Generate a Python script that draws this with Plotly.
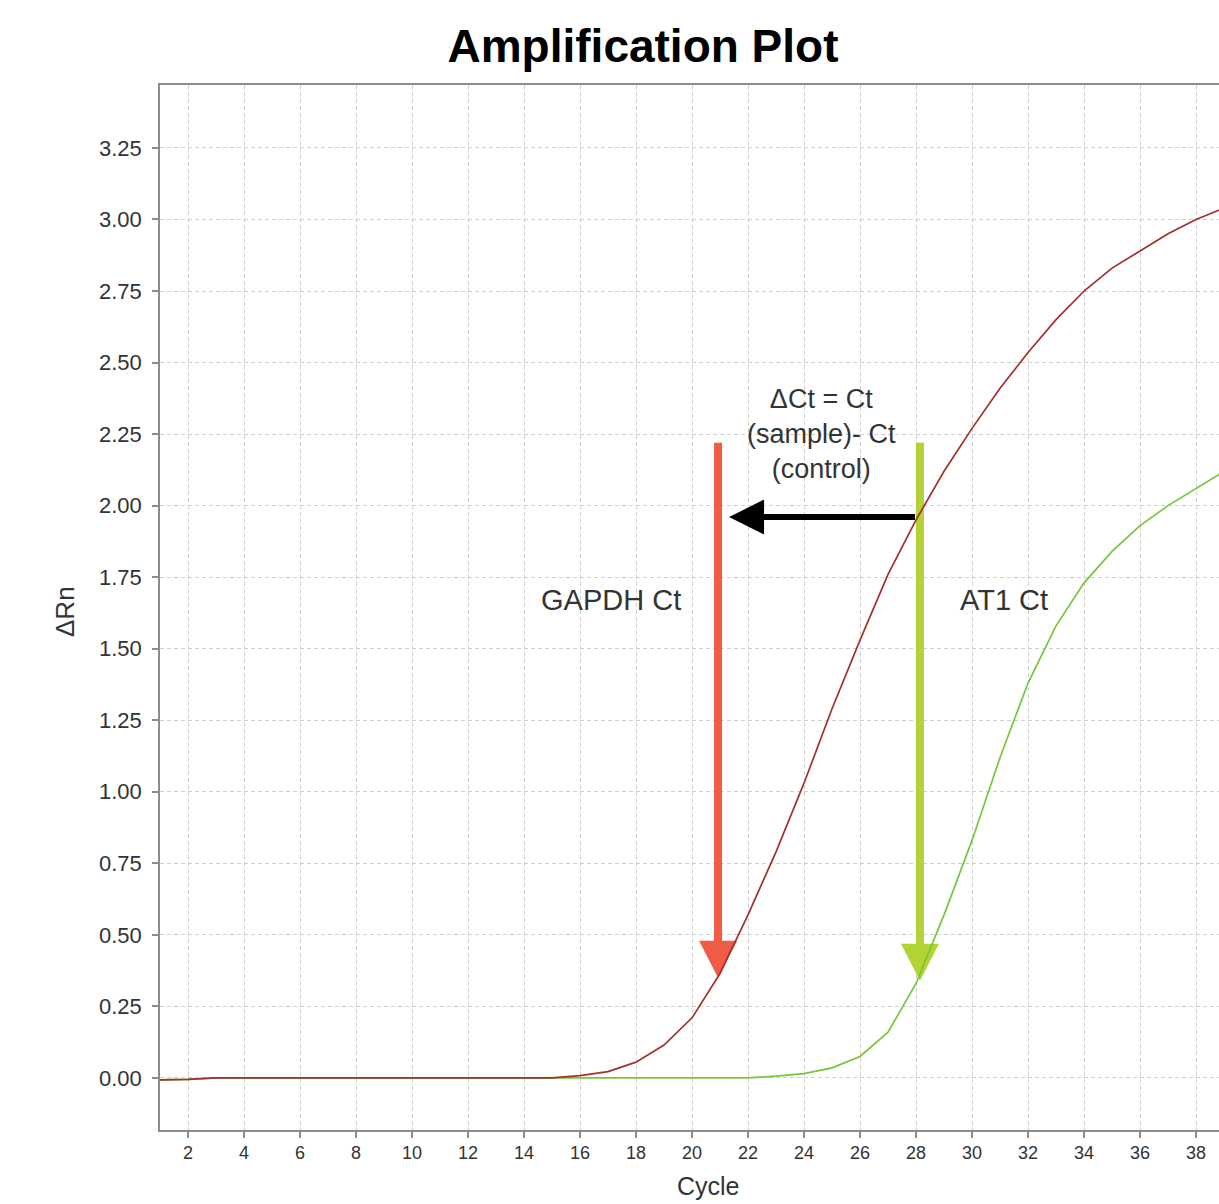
import plotly.graph_objects as go

# qPCR amplification curves (ΔRn per cycle)
cycles = list(range(1, 40))
gapdh_rn = [-0.007, -0.005, 0.0, 0.0, 0.0, 0.0, 0.0, 0.0, 0.0, 0.0,
            0.0, 0.0, 0.0, 0.0, 0.0, 0.008, 0.022, 0.055, 0.115, 0.21,
            0.365, 0.57, 0.79, 1.03, 1.29, 1.53, 1.76, 1.95, 2.12, 2.27,
            2.41, 2.535, 2.65, 2.75, 2.83, 2.89, 2.95, 3.00, 3.04]
at1_rn = [-0.007, -0.005, 0.0, 0.0, 0.0, 0.0, 0.0, 0.0, 0.0, 0.0,
          0.0, 0.0, 0.0, 0.0, 0.0, 0.0, 0.0, 0.0, 0.0, 0.0,
          0.0, 0.0, 0.006, 0.015, 0.035, 0.075, 0.16, 0.33, 0.57, 0.83,
          1.12, 1.38, 1.58, 1.73, 1.84, 1.93, 2.00, 2.06, 2.12]

# Threshold-cycle markers
gapdh_ct = 20.93
at1_ct = 28.14
gapdh_tip = 0.35
at1_tip = 0.34
marker_top = 2.22
delta_y = 1.96

x_range = [1.0, 38.82]
y_range = [-0.182, 3.47]

W, H = 1219, 1204
M_L, M_R, M_T, M_B = 160, 0, 85, 74
plot_w = W - M_L - M_R
plot_h = H - M_T - M_B
px_x = plot_w / (x_range[1] - x_range[0])
px_y = plot_h / (y_range[1] - y_range[0])

RED = "#ef5b45"
GREEN = "#b3d335"
FONT = "Liberation Sans, Arial, Helvetica, sans-serif"
TXT = "#333333"

fig = go.Figure()
fig.add_trace(go.Scatter(x=cycles, y=at1_rn, mode="lines",
                         line=dict(color="#76c63a", width=1.7), showlegend=False))
fig.add_trace(go.Scatter(x=cycles, y=gapdh_rn, mode="lines",
                         line=dict(color="#a3302c", width=1.7), showlegend=False))

shapes = []
head_len, head_half = 37, 19
for ct, tip, col in [(gapdh_ct, gapdh_tip, RED), (at1_ct, at1_tip, GREEN)]:
    base = tip + head_len / px_y
    shapes.append(dict(type="line", xref="x", yref="y", x0=ct, x1=ct,
                       y0=marker_top, y1=base - 1 / px_y,
                       line=dict(color=col, width=8), layer="between"))
    shapes.append(dict(type="path", xref="x", yref="y",
                       xsizemode="pixel", ysizemode="pixel",
                       xanchor=ct, yanchor=tip,
                       path=f"M0,0 L{-head_half},{head_len} L{head_half},{head_len} Z",
                       fillcolor=col, line=dict(width=0), layer="between"))

# ΔCt arrow pointing from AT1 Ct back to GAPDH Ct
tip_off, blen, bhalf = 11, 35, 17.5
shapes.append(dict(type="line", xref="x", yref="y",
                   x0=gapdh_ct + (tip_off + blen - 2) / px_x, x1=at1_ct - 5 / px_x,
                   y0=delta_y, y1=delta_y,
                   line=dict(color="black", width=6), layer="between"))
shapes.append(dict(type="path", xref="x", yref="y",
                   xsizemode="pixel", ysizemode="pixel",
                   xanchor=gapdh_ct, yanchor=delta_y,
                   path=f"M{tip_off},0 L{tip_off + blen},{bhalf} L{tip_off + blen},{-bhalf} Z",
                   fillcolor="black", line=dict(width=0), layer="between"))

annotations = [
    dict(text="ΔCt = Ct<br>(sample)- Ct<br>(control)", x=(821 - M_L) / plot_w, y=(H - M_B - 434) / plot_h,
         xref="paper", yref="paper", showarrow=False, xanchor="center", yanchor="middle",
         font=dict(family=FONT, size=27, color=TXT)),
    dict(text="GAPDH Ct", x=(611 - M_L) / plot_w, y=(H - M_B - 600) / plot_h,
         xref="paper", yref="paper", showarrow=False, xanchor="center", yanchor="middle",
         font=dict(family=FONT, size=29, color=TXT)),
    dict(text="AT1 Ct", x=(1004 - M_L) / plot_w, y=(H - M_B - 600) / plot_h,
         xref="paper", yref="paper", showarrow=False, xanchor="center", yanchor="middle",
         font=dict(family=FONT, size=29, color=TXT)),
    dict(text="ΔRn", x=(65 - M_L) / plot_w, y=(H - M_B - 612) / plot_h, textangle=-90,
         xref="paper", yref="paper", showarrow=False, xanchor="center", yanchor="middle",
         font=dict(family=FONT, size=26, color=TXT)),
    dict(text="Cycle", x=(708 - M_L) / plot_w, y=(H - M_B - 1186) / plot_h,
         xref="paper", yref="paper", showarrow=False, xanchor="center", yanchor="middle",
         font=dict(family=FONT, size=25, color=TXT)),
]

axis_common = dict(showline=True, linecolor="#8c8c8c", linewidth=1.5,
                   showgrid=True, gridcolor="#cfcfcf", gridwidth=1, griddash="4px,3px",
                   zeroline=False, ticks="outside", ticklen=6, tickcolor="#8c8c8c",
                   tickwidth=1.5)

fig.update_layout(
    width=W, height=H,
    margin=dict(l=M_L, r=M_R, t=M_T, b=M_B),
    paper_bgcolor="white", plot_bgcolor="white",
    title=dict(text="<b>Amplification Plot</b>", x=643 / W, xref="container", xanchor="center",
               y=1 - 46 / H, yref="container", yanchor="middle",
               font=dict(family=FONT, size=46, color="black")),
    xaxis=dict(range=x_range, tick0=2, dtick=2, mirror=True,
               tickfont=dict(family=FONT, size=18, color=TXT), **axis_common),
    yaxis=dict(range=y_range, tick0=0, dtick=0.25, tickformat=".2f",
               ticklabelstandoff=6,
               tickfont=dict(family=FONT, size=22, color=TXT), **axis_common),
    shapes=shapes,
    annotations=annotations,
)

fig.write_html("out.html")
